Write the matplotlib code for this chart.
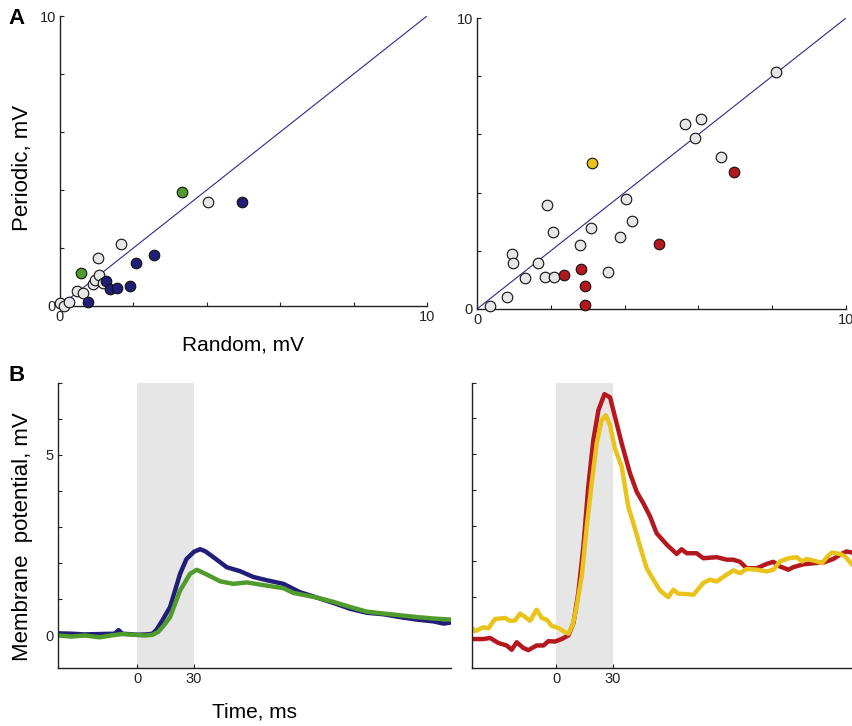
import matplotlib
matplotlib.use("Agg")
import matplotlib.pyplot as plt

plt.rcParams['font.family'] = ['Liberation Sans', 'DejaVu Sans']

# ---- scatter data: random vs periodic amplitude (mV) ----
grayL_x = [0.0, 0.1, 0.25, 0.45, 0.64, 0.89, 0.95, 1.06, 1.16, 1.04, 1.65, 4.02]
grayL_y = [0.1, 0.0, 0.14, 0.53, 0.45, 0.76, 0.90, 1.06, 0.78, 1.67, 2.14, 3.58]
greenL_x = [0.57, 3.32]
greenL_y = [1.13, 3.93]
navyL_x = [0.75, 1.25, 1.36, 1.56, 1.91, 2.08, 2.55, 4.96]
navyL_y = [0.14, 0.86, 0.60, 0.63, 0.70, 1.48, 1.75, 3.58]

grayR_x = [0.36, 0.82, 0.96, 0.98, 1.31, 1.65, 1.84, 2.08, 1.89, 2.07, 2.78,
           3.10, 3.54, 3.88, 4.05, 4.21, 5.63, 6.08, 5.90, 6.61, 8.09]
grayR_y = [0.09, 0.41, 1.90, 1.58, 1.08, 1.58, 1.10, 1.10, 3.57, 2.66, 2.19,
           2.78, 1.28, 2.46, 3.78, 3.01, 6.35, 6.53, 5.86, 5.21, 8.14]
yellowR_x = [3.13]
yellowR_y = [5.01]
redR_x = [2.35, 2.81, 2.94, 2.92, 4.93, 6.96]
redR_y = [1.18, 1.39, 0.79, 0.13, 2.25, 4.72]

# ---- averaged membrane potential traces (ms, mV) ----
t_blue = [-42, -35, -28, -20, -12, -10, -8, -5, 0, 5, 8, 10, 13, 17.3, 22.6, 26,
          30, 33.2, 36, 40.2, 44, 47.3, 54.4, 61.4, 68.5, 77.3, 86, 95, 103.8,
          112.6, 121.4, 130, 139, 148, 156.8, 162, 166]
v_blue = [0.06, 0.05, 0.03, 0.04, 0.05, 0.15, 0.05, 0.04, 0.02, 0.03, 0.05, 0.15,
          0.40, 0.79, 1.71, 2.12, 2.32, 2.39, 2.33, 2.17, 2.02, 1.89, 1.78, 1.62,
          1.53, 1.43, 1.20, 1.05, 0.90, 0.74, 0.63, 0.59, 0.51, 0.44, 0.39, 0.33,
          0.36]
t_green = [-42, -35, -28, -20, -14, -8, -2, 4, 8, 11, 14, 17.3, 22.6, 27.9, 31.4,
           36.7, 43.8, 50.8, 57.9, 68.5, 77.3, 82.5, 95, 103.8, 112.6, 121.4, 130,
           139, 148, 156.8, 166]
v_green = [0.0, -0.03, 0.0, -0.05, 0.0, 0.04, 0.02, 0.0, 0.02, 0.10, 0.28, 0.51,
           1.25, 1.71, 1.82, 1.69, 1.50, 1.43, 1.47, 1.38, 1.31, 1.18, 1.05, 0.93,
           0.79, 0.66, 0.61, 0.56, 0.51, 0.47, 0.44]

t_red = [-45, -38.9, -35.3, -30.9, -26.5, -23.8, -21.1, -17.6, -14.9, -10.5, -6.9,
         -4.3, -0.7, 2.8, 6.4, 9.1, 11.7, 14.4, 17, 19.7, 22.4, 25.6, 28.6, 31.2,
         34.8, 39.2, 42.8, 46.3, 49.9, 53.4, 58.8, 64.1, 66.7, 69.4, 74.7, 78.3,
         85.4, 90.7, 94.3, 97.8, 101.4, 106.7, 112, 115.6, 119.1, 123.6, 126.2,
         131.5, 136.9, 142.2, 147.5, 151.1, 154.6, 157.5, 162, 166]
v_red = [-0.17, -0.17, -0.14, -0.28, -0.35, -0.47, -0.26, -0.42, -0.48, -0.35,
         -0.35, -0.23, -0.24, -0.17, -0.07, 0.28, 1.12, 2.42, 4.09, 5.40, 6.23,
         6.68, 6.59, 6.05, 5.30, 4.47, 3.95, 3.63, 3.26, 2.79, 2.47, 2.21, 2.34,
         2.23, 2.23, 2.09, 2.12, 2.05, 2.05, 1.99, 1.81, 1.81, 1.93, 1.99, 1.86,
         1.77, 1.84, 1.92, 1.95, 1.97, 2.07, 2.19, 2.28, 2.25, 2.30, 2.28]
t_yellow = [-45.1, -43.3, -38.9, -36.2, -32.7, -27.3, -24.7, -22, -19.3, -16.7,
            -14, -10.5, -7.8, -5.1, -2.5, 1.1, 3.7, 6.4, 8.7, 10.8, 13.5, 16.2,
            18.8, 21.5, 24.1, 26.3, 28.6, 31.2, 34.8, 38.3, 41, 44.6, 48.1, 51.7,
            55.2, 59.6, 62.3, 65, 68.5, 73, 78.3, 81.8, 85.4, 90.7, 94.3, 97.8,
            101.4, 106.7, 112, 115.6, 119.1, 123.6, 128, 130.8, 133.4, 138.8,
            141.4, 144.1, 146.7, 151.1, 153.8, 157.5, 162]
v_yellow = [0.14, 0.05, 0.16, 0.13, 0.39, 0.42, 0.34, 0.35, 0.54, 0.45, 0.34,
            0.65, 0.42, 0.37, 0.20, 0.14, 0.05, -0.02, 0.23, 0.74, 1.58, 2.98,
            4.19, 5.30, 5.95, 6.09, 5.81, 5.16, 4.65, 3.53, 3.07, 2.42, 1.81,
            1.49, 1.19, 1.00, 1.21, 1.10, 1.09, 1.07, 1.40, 1.49, 1.44, 1.63,
            1.75, 1.67, 1.79, 1.77, 1.72, 1.77, 2.00, 2.09, 2.12, 2.00, 2.07,
            2.00, 1.95, 2.12, 2.25, 2.21, 2.14, 1.91, 1.80]

stim_on, stim_off = 0, 30

NAVY = '#221d78'
GREEN = '#4f9b2c'
RED = '#b5171f'
YELLOW = '#e9c31a'
LIGHT = '#e6e6e6'
AXC = '#222222'

W, H = 852, 726
fig = plt.figure(figsize=(W / 100, H / 100), dpi=100)


def frac(x0, y0, x1, y1):
    return [x0 / W, 1 - y1 / H, (x1 - x0) / W, (y1 - y0) / H]


def style(ax):
    for s in ('top', 'right'):
        ax.spines[s].set_visible(False)
    for s in ('left', 'bottom'):
        ax.spines[s].set_color(AXC)
        ax.spines[s].set_linewidth(1.0)
    ax.tick_params(direction='in', length=3, width=0.8, color=AXC,
                   labelsize=10.5, labelcolor=AXC, pad=3)


def scatter_panel(ax, groups):
    ax.plot([0, 10], [0, 10], color='#2c2a8c', lw=0.8, zorder=1)
    for xs, ys, c in groups:
        ax.scatter(xs, ys, s=58, c=c, edgecolors='#111111', linewidths=0.8,
                   zorder=3, clip_on=False)
    ax.set_xlim(0, 10)
    ax.set_ylim(0, 10)
    ax.set_xticks([0, 2, 4, 6, 8, 10])
    ax.set_xticklabels(['0', '', '', '', '', '10'])
    ax.set_yticks([0, 2, 4, 6, 8, 10])
    ax.set_yticklabels(['0', '', '', '', '', '10'])
    style(ax)


axA1 = fig.add_axes(frac(60, 16, 427, 306))
scatter_panel(axA1, [(grayL_x, grayL_y, LIGHT), (greenL_x, greenL_y, GREEN),
                     (navyL_x, navyL_y, NAVY)])
axA1.set_xlabel('Random, mV', fontsize=15, labelpad=8)
axA1.set_ylabel('Periodic, mV', fontsize=16)
axA1.yaxis.set_label_coords(-0.074, 0.475)

axA2 = fig.add_axes(frac(477, 18, 846, 309))
scatter_panel(axA2, [(grayR_x, grayR_y, LIGHT), (yellowR_x, yellowR_y, YELLOW),
                     (redR_x, redR_y, RED)])


def trace_panel(ax, traces, xlim, ylim, yticks, ylabels):
    ax.axvspan(stim_on, stim_off, color=LIGHT, lw=0, zorder=0)
    for t, v, c in traces:
        ax.plot(t, v, color=c, lw=3.2, solid_joinstyle='round',
                solid_capstyle='butt', zorder=2)
    ax.set_xlim(*xlim)
    ax.set_ylim(*ylim)
    ax.set_xticks([stim_on, stim_off])
    ax.set_xticklabels(['0', '30'])
    ax.set_yticks(yticks)
    ax.set_yticklabels(ylabels)
    style(ax)


axB1 = fig.add_axes(frac(57.7, 382.7, 451, 668))
trace_panel(axB1, [(t_blue, v_blue, NAVY), (t_green, v_green, GREEN)],
            (-42.2, 166), (-0.9, 7.0), list(range(0, 8)),
            ['0', '', '', '', '', '5', '', ''])
axB1.set_xlabel('Time, ms', fontsize=15, labelpad=12)
axB1.set_ylabel('Membrane  potential, mV', fontsize=16)
axB1.yaxis.set_label_coords(-0.064, 0.46)

axB2 = fig.add_axes(frac(471.7, 382.7, 868, 668))
trace_panel(axB2, [(t_red, v_red, RED), (t_yellow, v_yellow, YELLOW)],
            (-45.1, 166), (-0.98, 7.0), list(range(1, 8)), [''] * 7)

fig.text(8 / W, 1 - 24 / H, 'A', fontsize=16, fontweight='bold')
fig.text(8 / W, 1 - 381 / H, 'B', fontsize=16, fontweight='bold')

fig.savefig('out.png', dpi=100)
